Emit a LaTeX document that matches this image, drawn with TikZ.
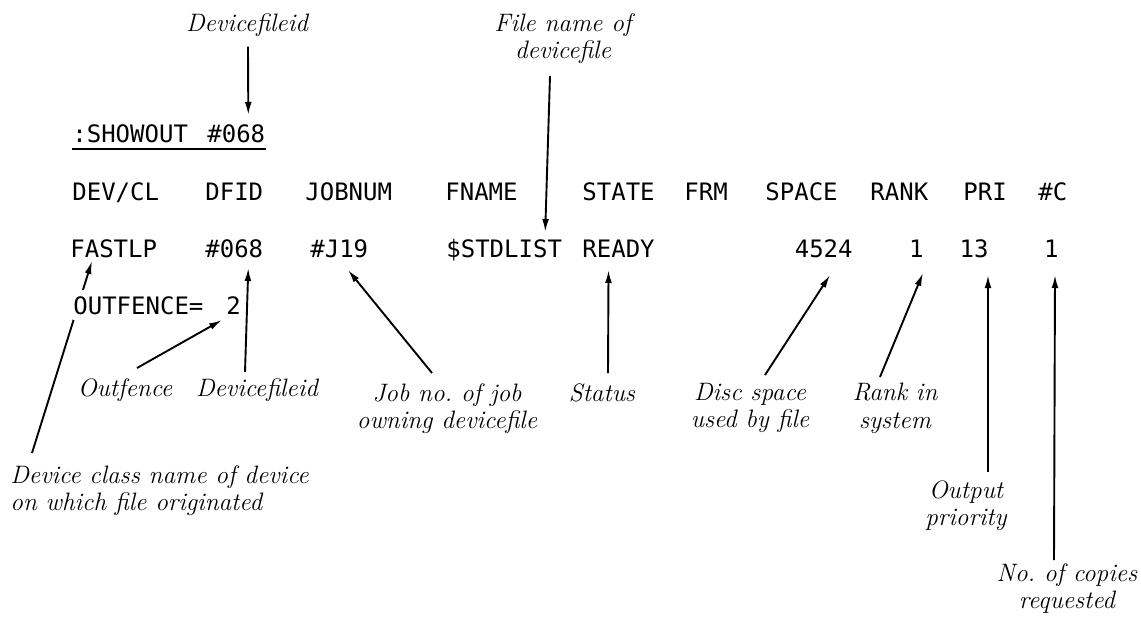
\documentclass[tikz,border=0pt]{standalone}
\usepackage{fontspec}
\newfontfamily\plotfont{DejaVu Sans Mono}
\usepackage{tikz}
\usetikzlibrary{arrows.meta, calc}
\frenchspacing

\begin{document}
\begin{tikzpicture}[
    x=0.5pt, y=-0.5pt,
    term/.style={font=\plotfont\fontsize{12}{14}\selectfont, inner sep=0pt, anchor=base west},
    termr/.style={term, anchor=base east},
    note/.style={font=\itshape\fontsize{12.6}{13.6}\selectfont, align=center, inner sep=0pt, anchor=north},
    arrow/.style={-{Latex[length=6.5pt, width=3.4pt]}, line width=0.95pt},
]
    \useasboundingbox (0,0) rectangle (1141,621);

    % Command line
    \node[term] (cmd) at (72,142) {:SHOWOUT};
    \node[term] (cmdid) at (207,142) {\#068};
    \draw[line width=0.9pt] ($(cmd.base west)+(0,7)$) -- ($(cmdid.base east)+(0,7)$);

    % Column heads
    \node[term] (hdev) at (72,200) {DEV/CL};
    \node[term] (hdfid) at (205,200) {DFID};
    \node[term] (hjob) at (305,200) {JOBNUM};
    \node[term] (hfname) at (445,200) {FNAME};
    \node[term] (hstate) at (582,200) {STATE};
    \node[term] (hfrm) at (684,200) {FRM};
    \node[term] (hspace) at (765,200) {SPACE};
    \node[term] (hrank) at (870,200) {RANK};
    \node[term] (hpri) at (963,200) {PRI};
    \node[term] (hcop) at (1038,200) {\#C};

    % Entry
    \node[term] (ddev) at (70,257) {FASTLP};
    \node[term] (ddfid) at (205,257) {\#068};
    \node[term] (djob) at (310,257) {\#J19};
    \node[term] (dfname) at (446,257) {\$STDLIST};
    \node[term] (dstate) at (582,257) {READY};
    \node[termr] (dspace) at (853,257) {4524};
    \node[termr] (drank) at (924,257) {1};
    \node[termr] (dpri) at (989,257) {13};
    \node[termr] (dcop) at (1059,257) {1};

    % Notes
    \node[note] (ndfidtop) at (247,13) {Devicefileid};
    \node[note] (nfname) at (563,13) {File name of\\devicefile};
    \node[note] (nfence) at (125,378) {Outfence};
    \node[note] (ndfid) at (257,378) {Devicefileid};
    \node[note] (njob) at (447,383) {Job no. of job\\owning devicefile};
    \node[note] (nstate) at (602,383) {Status};
    \node[note] (nspace) at (750,383) {Disc space\\used by file};
    \node[note] (nrank) at (895,383) {Rank in\\system};
    \node[note, align=left, anchor=north west] (ndev) at (10,465) {Device class name of device\\on which file originated};
    \node[note] (npri) at (966,480) {Output\\priority};
    \node[note] (ncop) at (1067,563) {No. of copies\\requested};

    % Arrows
    \draw[arrow] ($(ndev.north west)+(22,-12)$) -- ($(ddev.base west)+(22,4)$);
    \node[term, fill=white, inner ysep=3pt] (fence) at (73,314) {OUTFENCE=};
    \node[term] (fenceval) at (226,314) {2};

    \draw[arrow] ($(ndfidtop.south)+(1,10)$) -- ($(cmdid.base)+(12,-27)$);
    \draw[arrow] ($(nfname.south)+(-13,12)$) -- ($(dfname.base)+(41,-25)$);
    \draw[arrow] ($(nfence.north)+(12,-10)$) -- ($(fenceval.base west)+(-4,6)$);
    \draw[arrow] ($(ndfid.north)+(-12,-6)$) -- ($(ddfid.base)+(14,11)$);
    \draw[arrow] ($(njob.north)+(-15,-10)$) -- ($(djob.base west)+(38,13)$);
    \draw[arrow] ($(nstate.north)+(6,-10)$) -- ($(dstate.base)+(-10,13)$);
    \draw[arrow] ($(nspace.north)+(15,-8)$) -- ($(dspace.base east)+(-23,18)$);
    \draw[arrow] ($(nrank.north)+(-15,-6)$) -- ($(drank.base east)+(-1,16)$);
    \draw[arrow] ($(npri.north)+(22,-8)$) -- ($(dpri.base east)+(-1,18)$);
    \draw[arrow] ($(ncop.north)+(-13,-3)$) -- ($(dcop.base east)+(-4,18)$);

\end{tikzpicture}
\end{document}
